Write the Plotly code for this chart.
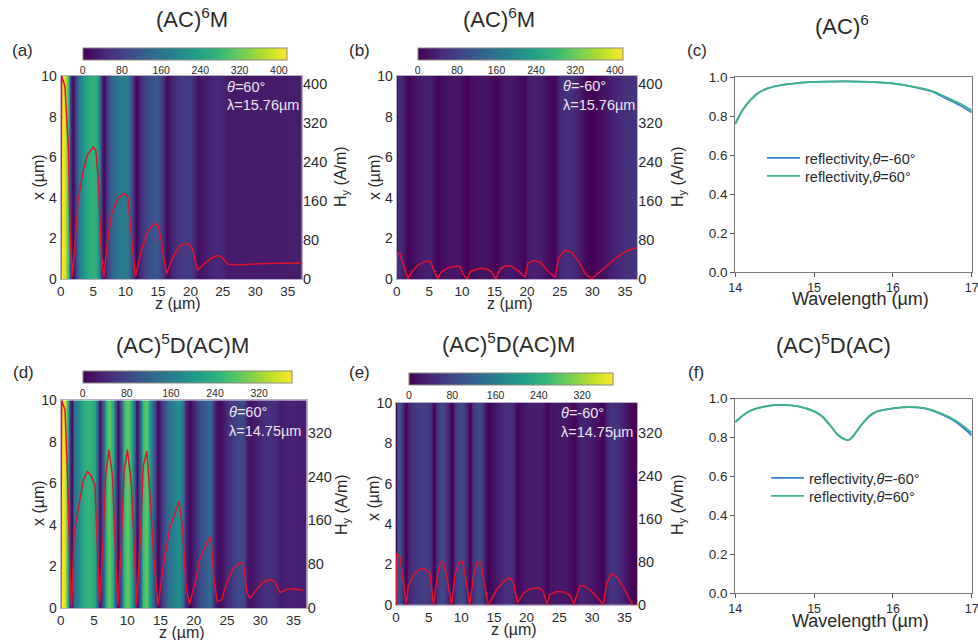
import plotly.graph_objects as go

W, H = 978, 640

# --- Field profiles H_y(z) ---
z_a = [0, 0.03, 0.15, 0.65, 1.2, 1.45, 1.8, 2.7, 3.5, 4.1, 5.0, 5.4, 5.8, 6.3, 6.67, 7.1, 7.85, 8.9, 9.9, 10.35,
       10.9, 11.5, 12.5, 13.5, 14.5, 15.0, 15.5, 16.3, 17.3, 18.4, 19.6, 20.3, 21.1, 22.2, 23.5, 24.3, 24.8,
       25.8, 27.6, 31.7, 37.2]
h_a = [0, 300, 416, 395, 265, 92, 4, 162, 223, 254, 270, 264, 203, 45, 3, 66, 134, 168, 175, 168,
       93, 5, 62, 100, 114, 110, 79, 10, 45, 69, 73, 62, 18, 32, 45, 48, 45,
       30, 29, 32, 33]
z_b = [0, 0.1, 0.5, 1.0, 1.7, 2.3, 3.3, 4.35, 5.2, 5.7, 6.3, 6.8, 7.9, 9.0, 9.7, 10.2, 10.8, 11.35, 12.8, 13.8,
       14.6, 15.2, 15.9, 16.6, 17.6, 18.7, 19.7, 20.1, 21.0, 22.0, 23.0, 24.3, 24.8, 25.8, 26.9, 28.1, 28.9,
       29.9, 31.7, 33.8, 35.3, 36.9]
h_b = [0, 54, 51, 32, 1, 14, 29, 36, 36, 18, 0, 14, 23, 26, 25, 10, 0, 16, 22, 21,
       14, 0, 21, 27, 26, 16, 3, 32, 38, 35, 19, 3, 42, 59, 54, 32, 11,
       0, 21, 45, 58, 64]
z_d = [0, 0.03, 0.15, 0.65, 1.05, 1.4, 1.65, 2.0, 2.65, 3.4, 4.0, 4.5, 5.15, 5.55, 5.85, 6.4, 6.75, 7.25, 7.8, 8.15,
       8.6, 9.15, 9.55, 10.05, 10.65, 11.1, 11.4, 12.0, 12.4, 12.95, 13.45, 13.95, 14.65, 15.4, 16.45, 17.2,
       17.8, 18.35, 18.85, 19.35, 20.2, 20.95, 21.95, 22.6, 23.05, 23.55, 24.2, 24.95, 25.95, 26.95, 27.45,
       28.05, 28.45, 29.45, 30.5, 31.5, 32.2, 33.0, 34.0, 35.2, 36.5]
h_d = [0, 300, 379, 361, 233, 63, 2, 136, 185, 233, 249, 243, 224, 100, 9, 130, 240, 289, 240, 130,
       5, 124, 252, 289, 221, 100, 5, 130, 258, 286, 203, 100, 5, 75, 148, 173,
       195, 142, 39, 7, 45, 91, 118, 130, 51, 12, 15, 45, 72, 83, 82,
       27, 18, 33, 48, 52, 48, 28, 34, 35, 32]
z_e = [0, 0.15, 0.6, 1.1, 1.6, 1.85, 2.65, 3.7, 4.45, 5.2, 5.75, 6.3, 6.75, 7.25, 7.85, 8.5, 9.0, 9.55, 10.2, 10.7,
       11.3, 11.85, 12.35, 13.0, 13.5, 14.15, 15.4, 16.4, 17.35, 17.95, 18.6, 19.5, 20.5, 21.9, 22.55, 23.1,
       23.55, 24.6, 25.9, 26.7, 27.25, 28.15, 28.7, 29.7, 30.7, 31.75, 32.25, 32.9, 33.8, 34.8, 36.1, 36.4]
h_e = [0, 96, 90, 40, 0, 34, 56, 67, 67, 59, 0, 53, 78, 81, 47, 0, 53, 78, 81, 47,
       0, 53, 78, 80, 40, 0, 28, 43, 51, 43, 4, 22, 30, 32, 25, 2,
       19, 25, 24, 17, 2, 36, 36, 28, 16, 0, 40, 58, 53, 34, 3, 0]

# --- Reflectivity spectra ---
wl_c = [14.0, 14.05, 14.1, 14.2, 14.3, 14.4, 14.5, 14.7, 15.0, 15.4, 15.7, 16.0, 16.3, 16.5, 16.7, 16.85, 17.0]
r_c_neg = [0.76, 0.80, 0.835, 0.885, 0.92, 0.94, 0.952, 0.965, 0.975, 0.978, 0.975, 0.967, 0.945, 0.925, 0.885, 0.855, 0.818]
r_c_pos = [0.76, 0.80, 0.835, 0.885, 0.92, 0.94, 0.952, 0.965, 0.975, 0.978, 0.975, 0.967, 0.947, 0.928, 0.892, 0.864, 0.83]
wl_f = [14.0, 14.1, 14.2, 14.4, 14.6, 14.8, 15.0, 15.1, 15.2, 15.3, 15.4, 15.45, 15.5, 15.6, 15.7, 15.8, 16.0, 16.2, 16.4, 16.6, 16.8, 17.0]
r_f_neg = [0.88, 0.915, 0.94, 0.962, 0.968, 0.96, 0.935, 0.91, 0.865, 0.815, 0.79, 0.79, 0.81, 0.865, 0.91, 0.935, 0.95, 0.957, 0.95, 0.923, 0.88, 0.812]
r_f_pos = [0.88, 0.915, 0.94, 0.962, 0.968, 0.96, 0.935, 0.91, 0.865, 0.815, 0.79, 0.79, 0.81, 0.865, 0.91, 0.935, 0.95, 0.957, 0.951, 0.926, 0.887, 0.825]

TEXT = "#2a2a2a"
FRAME = "#b9aec8"
FONT = "Liberation Sans"


def xd(l, r):
    return [l / W, r / W]


def yd(t, b):
    return [1 - b / H, 1 - t / H]


fig = go.Figure()
layout = dict(
    width=W, height=H, margin=dict(l=0, r=0, t=0, b=0, autoexpand=False), autosize=False,
    paper_bgcolor="white", plot_bgcolor="white", showlegend=True,
    font=dict(family=FONT, color=TEXT),
)
annotations = []


def note(text, x, y, size, color=TEXT, xanchor="center", angle=0):
    annotations.append(dict(text=text, x=x / W, y=1 - y / H, xref="paper", yref="paper", xanchor=xanchor,
                            yanchor="middle", showarrow=False, textangle=angle,
                            font=dict(size=size, color=color, family=FONT)))


def field_panel(idx, z, h, box, xmax, hmax, rticks, cbar, theta, lam, tpos, heat_tail=None):
    """idx: (x axis no, left y axis no, right y axis no)"""
    xn, yn, y2n = idx
    l, t, r, b = box
    xname = "x" if xn == 1 else f"x{xn}"
    yname = "y" if yn == 1 else f"y{yn}"
    y2name = f"y{y2n}"
    zh = z + [xmax] if heat_tail is not None else z
    hh = h + [heat_tail] if heat_tail is not None else h
    cl, ct, cr, cb = cbar
    fig.add_trace(go.Heatmap(
        x=zh, y=[0, 10], z=[hh, hh], xaxis=xname, yaxis=yname, zsmooth="best",
        colorscale="Viridis", zmin=0, zmax=hmax, hoverinfo="skip",
        colorbar=dict(orientation="h", x=cl / W, y=1 - ct / H, xanchor="left", yanchor="top",
                      lenmode="pixels", len=cr - cl, thicknessmode="pixels", thickness=cb - ct,
                      xpad=0, ypad=0, tick0=0, dtick=80, ticks="", outlinecolor="#8a8a80", outlinewidth=1,
                      tickfont=dict(size=10.5, color=TEXT, family=FONT)),
    ))
    fig.add_trace(go.Scatter(x=z, y=h, xaxis=xname, yaxis=y2name, mode="lines", showlegend=False,
                             line=dict(color="#e3122a", width=1.5), hoverinfo="skip"))
    layout[f"xaxis{xn}"] = dict(domain=xd(l, r), anchor=yname, range=[0, xmax], tick0=0, dtick=5, ticks="",
                                showline=True, mirror=True, linecolor=FRAME, linewidth=1, showgrid=False, zeroline=False,
                                tickfont=dict(size=13.5), automargin=False)
    layout[f"yaxis{yn}"] = dict(domain=yd(t, b), anchor=xname, range=[0, 10], dtick=2, tick0=0, ticks="",
                                showline=True, mirror=True, linecolor=FRAME, linewidth=1, showgrid=False, zeroline=False,
                                tickfont=dict(size=14), automargin=False)
    layout[f"yaxis{y2n}"] = dict(domain=yd(t, b), anchor=xname, overlaying=yname, side="right", range=[0, hmax],
                                 tickvals=rticks, ticks="", showgrid=False, zeroline=False, showline=False,
                                 tickfont=dict(size=14.5), automargin=False)
    note(f"<i>θ</i>={theta}°", tpos[0], tpos[1], 14.5, "#ece6f2", "left")
    note(f"λ={lam}µm", tpos[0], tpos[2], 14.5, "#ece6f2", "left")


def spectrum_panel(xn, yn, wl, neg, pos, box, legends):
    l, t, r, b = box
    xname = f"x{xn}"
    yname = f"y{yn}"
    series = [(neg, "reflectivity,<i>θ</i>=-60°", "#3a7fd8"), (pos, "reflectivity,<i>θ</i>=60°", "#3fb487")]
    for (vals, label, color), (lname, lx, ly) in zip(series, legends):
        fig.add_trace(go.Scatter(x=wl, y=vals, xaxis=xname, yaxis=yname, mode="lines", name=label,
                                 line=dict(color=color, width=1.8, shape="spline", smoothing=0.8),
                                 legend=lname, hoverinfo="skip"))
        layout[lname] = dict(x=lx / W, y=1 - ly / H, xanchor="left", yanchor="top",
                             bgcolor="rgba(0,0,0,0)", itemwidth=33, font=dict(size=14.5, family=FONT, color=TEXT),
                             itemclick=False, itemdoubleclick=False)
    layout[f"xaxis{xn}"] = dict(domain=xd(l, r), anchor=yname, range=[14, 17], dtick=1, tick0=14, ticks="outside", ticklen=4,
                                tickcolor="#555", showline=True, mirror=True, linecolor="#777", linewidth=1,
                                showgrid=False, zeroline=False, tickfont=dict(size=12.5), automargin=False,
                                ticklabeloverflow="allow")
    layout[f"yaxis{yn}"] = dict(domain=yd(t, b), anchor=xname, range=[0, 1], dtick=0.2, tick0=0, ticks="outside", ticklen=4,
                                tickformat=".1f", tickcolor="#555", showline=True, mirror=True, linecolor="#777",
                                linewidth=1, showgrid=False, zeroline=False, tickfont=dict(size=13.5), automargin=False)


field_panel((1, 1, 2), z_a, h_a, (60.7, 76, 302, 279), 37.2, 416, [0, 80, 160, 240, 320, 400],
            (82.7, 48, 286.7, 60), "60", "15.76", (225, 87, 105))
field_panel((2, 3, 4), z_b, h_b, (396.7, 76, 637.3, 279), 36.9, 416, [0, 80, 160, 240, 320, 400],
            (417.7, 48, 622.3, 60), "-60", "15.76", (561, 86, 105))
spectrum_panel(3, 5, wl_c, r_c_neg, r_c_pos, (735.3, 77, 971.7, 272),
               [("legend", 762, 142), ("legend2", 762, 160)])
field_panel((4, 6, 7), z_d, h_d, (60.7, 400.3, 306.7, 608), 37.0, 379, [0, 80, 160, 240, 320],
            (82.7, 370.7, 291.7, 383), "60", "14.75", (227, 412, 431), heat_tail=30)
field_panel((5, 8, 9), z_e, h_e, (396, 402.7, 637, 605), 36.9, 377, [0, 80, 160, 240, 320],
            (409, 372.7, 613.3, 385), "-60", "14.75", (559, 413, 432), heat_tail=5)
spectrum_panel(6, 10, wl_f, r_f_neg, r_f_pos, (735.3, 398.7, 971.7, 593.3),
               [("legend3", 766, 462), ("legend4", 766, 480)])

for text, x, y in [("(AC)<sup>6</sup>M", 192, 18), ("(AC)<sup>6</sup>M", 499, 18), ("(AC)<sup>6</sup>", 842, 25),
                   ("(AC)<sup>5</sup>D(AC)M", 182, 344), ("(AC)<sup>5</sup>D(AC)M", 509, 343),
                   ("(AC)<sup>5</sup>D(AC)", 833, 344)]:
    note(text, x, y, 22)
for text, x, y in [("(a)", 22, 50), ("(b)", 359, 50), ("(c)", 697, 50),
                   ("(d)", 23, 372), ("(e)", 359, 372), ("(f)", 696, 372)]:
    note(text, x, y, 17)
# Axis titles
for x, y in [(178, 303), (510, 303), (182, 632), (514, 629)]:
    note("z (µm)", x, y, 16)
for x, y in [(38, 177), (374, 177), (38, 503), (373, 498)]:
    note("x (µm)", x, y, 16, angle=-90)
for x, y in [(341, 177), (678, 177), (342, 505), (678, 505)]:
    note("H<sub>y</sub> (A/m)", x, y, 16, angle=-90)
for x, y in [(860, 299), (860, 621)]:
    note("Wavelength (µm)", x, y, 18)

layout["annotations"] = annotations
fig.update_layout(**layout)
fig.write_html("out.html", config=dict(displayModeBar=False),
               post_script="document.body.style.margin='0';document.body.style.overflow='hidden';")
